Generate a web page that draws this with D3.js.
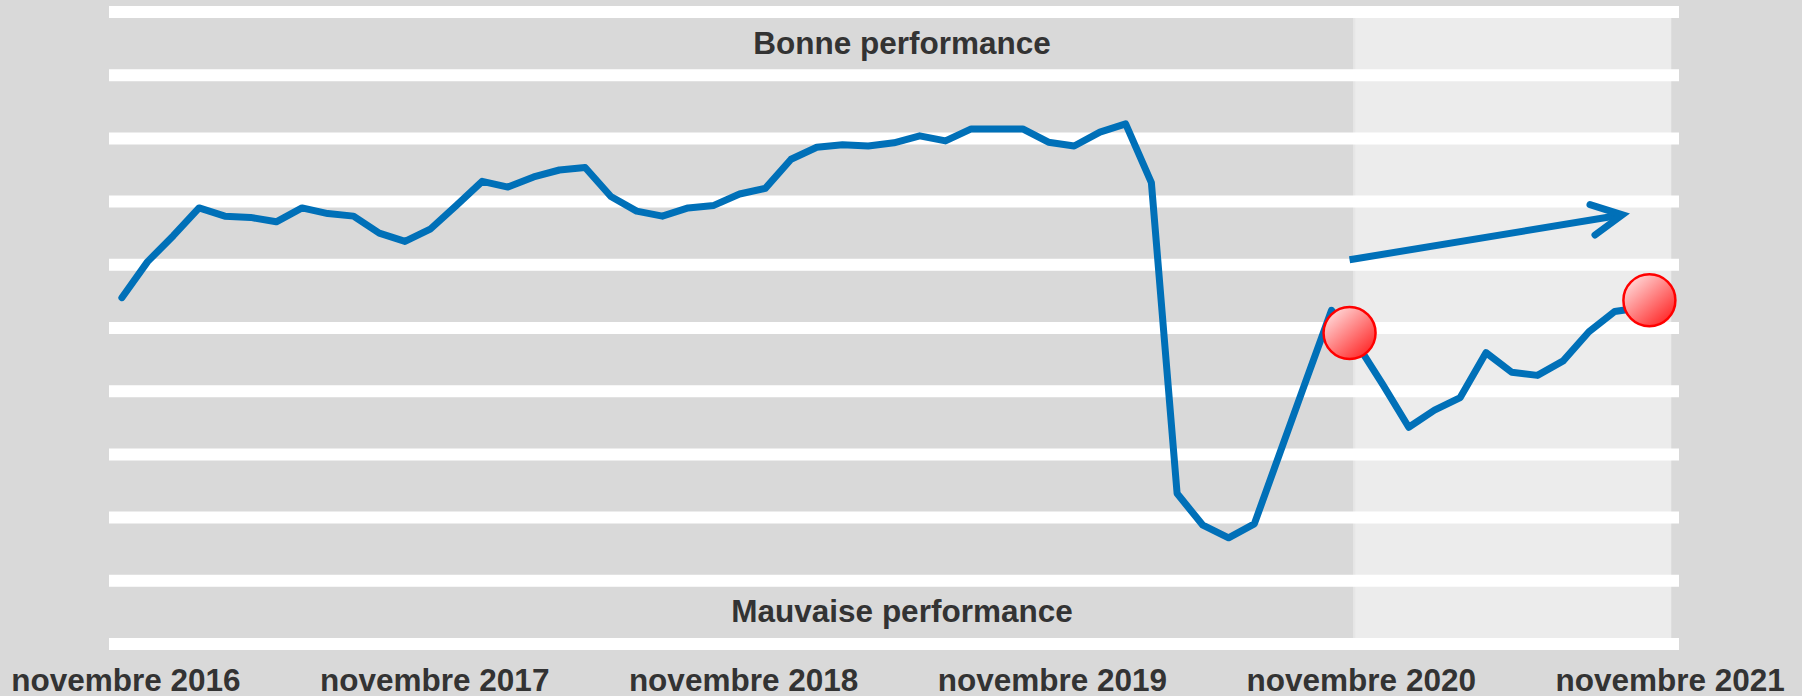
<!DOCTYPE html>
<html>
<head>
<meta charset="UTF-8">
<title>Performance</title>

<script src="https://d3js.org/d3.v7.min.js"></script>

<style>
	body { margin: 0; background: #d9d9d9; }
	text { font-family: "Liberation Sans", Arial, sans-serif; font-weight: bold; fill: #333333; }
</style>
</head>
<body>
	<div id="svg-container"></div>
	<script type="text/javascript">
		// months novembre 2016 .. novembre 2021 (the last one has no value)
		let months = d3.timeMonth.range(new Date(2016, 10, 1), new Date(2021, 11, 1));

		let values = [
			5.48, 6.05, 6.46, 6.90, 6.77, 6.75, 6.68, 6.90, 6.81, 6.77, 6.50, 6.37,
			6.57, 6.94, 7.32, 7.23, 7.39, 7.50, 7.54, 7.08, 6.85, 6.77, 6.90, 6.94,
			7.12, 7.21, 7.67, 7.86, 7.90, 7.88, 7.93, 8.04, 7.96, 8.15, 8.15, 8.15,
			7.94, 7.88, 8.10, 8.23, 7.30, 2.38, 1.88, 1.68, 1.90, 3.03, 4.16, 5.28,
			4.74, 4.10, 3.43, 3.70, 3.90, 4.61, 4.30, 4.25, 4.48, 4.94, 5.26, 5.32
		];

		let tickLabels = ["novembre 2016", "novembre 2017", "novembre 2018",
			"novembre 2019", "novembre 2020", "novembre 2021"];
		let tickMonths = [0, 12, 24, 36, 48, 60];

		let bandLabels = [
			{ text: "Bonne performance", v: 9.5 },
			{ text: "Mauvaise performance", v: 0.5 }
		];

		// annotations, in month index / value units
		let forecastZone = [47.85, 60.2];
		let markers = [{ m: 47.7, v: 4.92 }, { m: 59.35, v: 5.44 }];
		let trendArrow = [{ m: 47.7, v: 6.08 }, { m: 58.3, v: 6.79 }];

		let width = 1802, height = 696;

		let x = d3.scaleLinear().domain([-0.5, months.length - 0.5]).range([109, 1679]);
		let y = d3.scaleLinear().domain([0, 10]).range([644, 12]);

		let svg = d3.select("#svg-container")
			.append("svg")
			.attr("width", width)
			.attr("height", height);

		let defs = svg.append("defs");
		let grad = defs.append("linearGradient")
			.attr("id", "dotFill")
			.attr("x1", "15%").attr("y1", "10%")
			.attr("x2", "85%").attr("y2", "90%");
		grad.append("stop").attr("offset", "0%").attr("stop-color", "#ffd6d6");
		grad.append("stop").attr("offset", "100%").attr("stop-color", "#ff2b2b");

		svg.append("rect")
			.attr("width", width)
			.attr("height", height)
			.attr("fill", "#d9d9d9");

		// lighter zone on the right
		svg.append("rect")
			.attr("x", x(forecastZone[0]))
			.attr("y", y(10) + 6)
			.attr("width", x(forecastZone[1]) - x(forecastZone[0]))
			.attr("height", y(0) - y(10) - 12)
			.attr("fill", "#ececec");
		svg.append("line")
			.attr("x1", x(forecastZone[0]) + 1).attr("x2", x(forecastZone[0]) + 1)
			.attr("y1", y(10) + 6).attr("y2", y(0) - 6)
			.attr("stroke", "#e6e6e6")
			.attr("stroke-width", 2);

		// thick white gridlines
		svg.append("g")
			.selectAll("line")
			.data(y.ticks(10))
			.join("line")
			.attr("x1", x.range()[0])
			.attr("x2", x.range()[1])
			.attr("y1", d => y(d))
			.attr("y2", d => y(d))
			.attr("stroke", "#ffffff")
			.attr("stroke-width", 12);

		svg.append("g")
			.selectAll("text")
			.data(bandLabels)
			.join("text")
			.attr("x", 902)
			.attr("y", d => y(d.v) + 10)
			.attr("text-anchor", "middle")
			.attr("font-size", 31.5)
			.text(d => d.text);

		let line = d3.line()
			.x((d, i) => x(i))
			.y(d => y(d));

		svg.append("path")
			.datum(values)
			.attr("d", line)
			.attr("fill", "none")
			.attr("stroke", "#0070b8")
			.attr("stroke-width", 7)
			.attr("stroke-linejoin", "round")
			.attr("stroke-linecap", "round");

		// trend arrow
		let a0 = trendArrow[0], a1 = trendArrow[1];
		let tx = x(a1.m), ty = y(a1.v);
		let ang = Math.atan2(ty - y(a0.v), tx - x(a0.m));
		let headLen = 34, headAng = 27 * Math.PI / 180;
		let head = [
			[tx - headLen * Math.cos(ang - headAng), ty - headLen * Math.sin(ang - headAng)],
			[tx, ty],
			[tx - headLen * Math.cos(ang + headAng), ty - headLen * Math.sin(ang + headAng)]
		];

		svg.append("line")
			.attr("x1", x(a0.m)).attr("y1", y(a0.v))
			.attr("x2", tx - 4 * Math.cos(ang)).attr("y2", ty - 4 * Math.sin(ang))
			.attr("stroke", "#0070b8")
			.attr("stroke-width", 7);
		svg.append("path")
			.attr("d", d3.line()(head))
			.attr("fill", "none")
			.attr("stroke", "#0070b8")
			.attr("stroke-width", 7)
			.attr("stroke-linecap", "round")
			.attr("stroke-linejoin", "miter");

		svg.append("g")
			.selectAll("circle")
			.data(markers)
			.join("circle")
			.attr("cx", d => x(d.m))
			.attr("cy", d => y(d.v))
			.attr("r", 26)
			.attr("fill", "url(#dotFill)")
			.attr("stroke", "#ff0000")
			.attr("stroke-width", 2.5);

		svg.append("g")
			.selectAll("text")
			.data(tickLabels)
			.join("text")
			.attr("x", (d, i) => x(tickMonths[i]) + 4)
			.attr("y", 691)
			.attr("text-anchor", "middle")
			.attr("font-size", 31.5)
			.text(d => d);
	</script>

</body>
</html>
